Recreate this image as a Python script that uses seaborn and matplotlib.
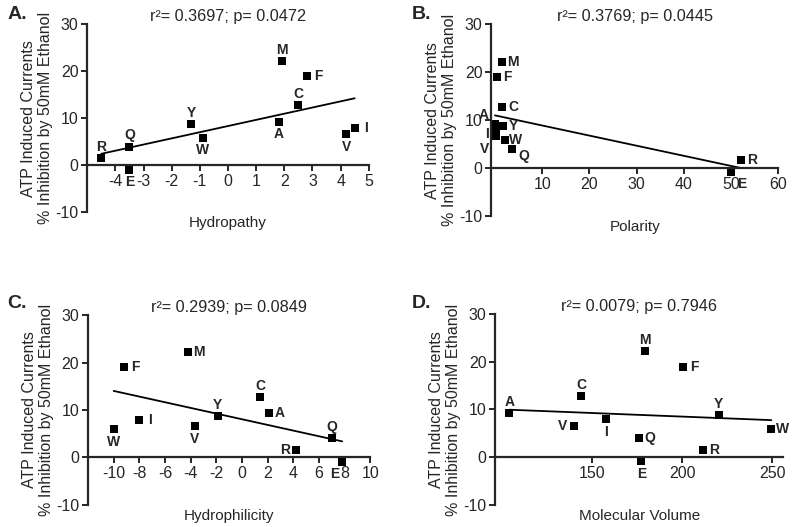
import pandas as pd
import matplotlib
matplotlib.use('Agg')
import matplotlib.pyplot as plt
import seaborn as sns

# Data: amino acid substitutions
residues = ['M', 'F', 'C', 'A', 'Y', 'I', 'V', 'W', 'Q', 'R', 'E']
inhibition = [22.2, 19.0, 12.8, 9.3, 8.8, 7.9, 6.6, 5.9, 4.0, 1.6, -0.9]
hydropathy = [1.9, 2.8, 2.5, 1.8, -1.3, 4.5, 4.2, -0.9, -3.5, -4.5, -3.5]
polarity = [1.43, 0.35, 1.48, 0.0, 1.61, 0.13, 0.13, 2.1, 3.53, 52.0, 49.9]
hydrophilicity = [-4.2, -9.2, 1.4, 2.1, -1.9, -8.0, -3.7, -10.0, 7.0, 4.2, 7.8]
volume = [179.5, 200.6, 144.1, 104.3, 220.3, 157.7, 139.9, 249.4, 176.2, 211.8, 177.4]

titles = ['r\u00b2= 0.3697; p= 0.0472', 'r\u00b2= 0.3769; p= 0.0445',
          'r\u00b2= 0.2939; p= 0.0849', 'r\u00b2= 0.0079; p= 0.7946']
xlabels = ['Hydropathy', 'Polarity', 'Hydrophilicity', 'Molecular Volume']
letters = ['A.', 'B.', 'C.', 'D.']

df = pd.DataFrame({'aa': residues, 'inh': inhibition, 'Hydropathy': hydropathy,
                   'Polarity': polarity, 'Hydrophilicity': hydrophilicity,
                   'Molecular Volume': volume})

sns.set_style('ticks')
plt.rcParams['font.family'] = ['Liberation Sans', 'DejaVu Sans']
plt.rcParams['axes.unicode_minus'] = False

# label placement per panel: u=above, d=below, r=right, l=left
U, D, R, L = (0, 8), (0, -9), (8, 0), (-8, 0)
places = [
    {'M': U, 'F': R, 'C': U, 'A': D, 'Y': U, 'I': R, 'V': D, 'W': D, 'Q': U, 'R': U, 'E': D},
    {'M': R, 'F': R, 'C': R, 'A': (-8, 6), 'Y': R, 'I': (-6, -3), 'V': (-8, -9), 'W': R, 'Q': (9, -5), 'R': R, 'E': (8, -8)},
    {'M': R, 'F': R, 'C': U, 'A': R, 'Y': U, 'I': R, 'V': D, 'W': D, 'Q': U, 'R': L, 'E': (-5, -9)},
    {'M': U, 'F': R, 'C': U, 'A': U, 'Y': U, 'I': D, 'V': L, 'W': R, 'Q': R, 'R': R, 'E': D},
]
xlims = [(-5, 5), (-0.8, 60), (-12, 10), (96.5, 256)]
xticks = [range(-4, 6), range(10, 70, 10), range(-10, 12, 2), [150, 200, 250]]
boxes = [[0.109, 0.597, 0.352, 0.357], [0.614, 0.590, 0.359, 0.364],
         [0.110, 0.042, 0.353, 0.360], [0.619, 0.042, 0.360, 0.362]]
letter_pos = [(0.009, 0.972), (0.515, 0.972), (0.009, 0.425), (0.515, 0.425)]

fig = plt.figure(figsize=(8, 5.27), dpi=100)

for i, col in enumerate(xlabels):
    ax = fig.add_axes(boxes[i])
    sns.regplot(data=df, x=col, y='inh', ax=ax, ci=None, marker='s', color='black',
                truncate=True, scatter_kws={'s': 26, 'alpha': 1, 'linewidths': 0},
                line_kws={'lw': 1.3})
    for _, row in df.iterrows():
        ax.annotate(row['aa'], (row[col], row['inh']), xytext=places[i][row['aa']],
                    textcoords='offset points', ha='center', va='center',
                    fontsize=10, fontweight='bold')
    ax.set_xlim(*xlims[i])
    ax.set_ylim(-10, 30)
    ax.set_xticks(list(xticks[i]))
    ax.set_yticks([-10, 0, 10, 20, 30])
    ax.spines['top'].set_visible(False)
    ax.spines['right'].set_visible(False)
    ax.spines['bottom'].set_position(('data', 0))
    ax.spines['left'].set_linewidth(1.6)
    ax.spines['bottom'].set_linewidth(1.6)
    ax.tick_params(width=1.4, length=4.3, labelsize=11.5, pad=2)
    ax.set_title(titles[i], fontsize=11.7, pad=1)
    ax.set_xlabel(col, fontsize=11)
    ax.xaxis.set_label_coords(0.5, -0.02)
    ax.set_ylabel('ATP Induced Currents\n% Inhibition by 50mM Ethanol', fontsize=11.5,
                  labelpad=1.5)
    fig.text(letter_pos[i][0], letter_pos[i][1], letters[i], fontsize=14,
             fontweight='bold', va='center')

fig.savefig('out.png', dpi=100)
